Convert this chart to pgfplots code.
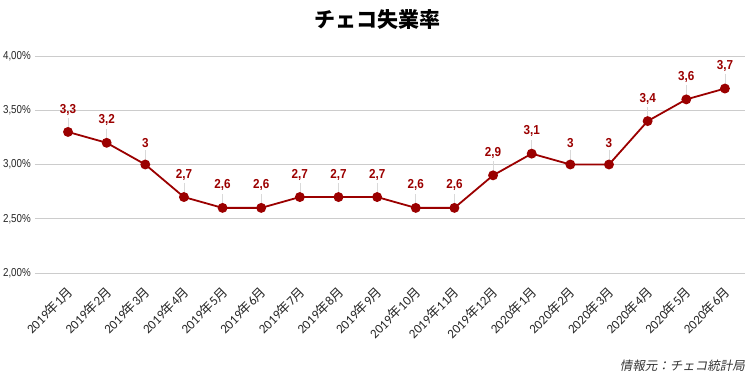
\documentclass[border=0pt]{standalone}
\usepackage{fontspec}
\usepackage{pgfplots}
\pgfplotsset{compat=1.18}
\setmainfont{Liberation Sans}
\newfontfamily\cjk{Noto Sans CJK JP}
\newfontfamily\cjkl{Noto Sans CJK JP Light}
\newfontfamily\cjkit{Noto Sans CJK JP}[FakeSlant=0.2]
\newfontfamily\narrow{Liberation Sans}[FakeStretch=0.85]
\newfontfamily\narrowb{Liberation Sans}[FakeStretch=0.9]
\newfontfamily\carl{Carlito}
\definecolor{dred}{RGB}{155,0,0}
\newcommand{\ym}[2]{{\carl #1}{\cjk 年}{\carl #2}{\cjk 月}}
\begin{document}
\begin{tikzpicture}
\useasboundingbox (0,0) rectangle (754pt,379pt);
\begin{axis}[
  at={(35pt,106pt)}, anchor=south west,
  scale only axis, width=710pt, height=217pt,
  xmin=-0.854, xmax=17.52, ymin=2, ymax=4,
  clip=false,
  axis line style={draw=none},
  tick style={draw=none},
  ymajorgrids, grid style={black!20, line width=0.8pt},
  ytick={2,2.5,3,3.5,4},
  yticklabels={{2,00\%},{2,50\%},{3,00\%},{3,50\%},{4,00\%}},
  yticklabel style={font=\narrow\fontsize{11.5}{13}\selectfont, text=black!85, inner sep=0pt, xshift=-4pt},
  xtick={0,...,17},
  xticklabels={\ym{2019}{1},\ym{2019}{2},\ym{2019}{3},\ym{2019}{4},\ym{2019}{5},\ym{2019}{6},\ym{2019}{7},\ym{2019}{8},\ym{2019}{9},\ym{2019}{10},\ym{2019}{11},\ym{2019}{12},\ym{2020}{1},\ym{2020}{2},\ym{2020}{3},\ym{2020}{4},\ym{2020}{5},\ym{2020}{6}},
  xticklabel style={xshift=-2pt, yshift=-12pt, rotate=45, anchor=north east, inner sep=0pt, font=\fontsize{13}{15}\selectfont, text=black!85},
  /pgf/number format/use comma,
  /pgf/number format/assume math mode=true,
  nodes near coords,
  every node near coord/.append style={font=\narrowb\bfseries\fontsize{13}{15}\selectfont, text=dred, anchor=south, inner sep=0pt, yshift=16pt},
]
\addplot[dred, line width=1.8pt, mark=*, mark size=4pt, mark options={fill=dred, draw=dred},
  error bars/.cd, y dir=plus, y fixed=0.13, error mark=none, error bar style={black!15, line width=0.6pt}]
  coordinates {(0,3.3)(1,3.2)(2,3.0)(3,2.7)(4,2.6)(5,2.6)(6,2.7)(7,2.7)(8,2.7)(9,2.6)(10,2.6)(11,2.9)(12,3.1)(13,3.0)(14,3.0)(15,3.4)(16,3.6)(17,3.7)};
\node[font=\cjk\bfseries\fontsize{21}{24}\selectfont] at (rel axis cs:0.4817,1.166) {チェコ失業率};
\node[anchor=east, inner sep=0pt, text=black!80, font=\cjkit\fontsize{12.5}{14}\selectfont] at (rel axis cs:1,-0.4286) {情報元：チェコ統計局};
\end{axis}
\end{tikzpicture}
\end{document}
